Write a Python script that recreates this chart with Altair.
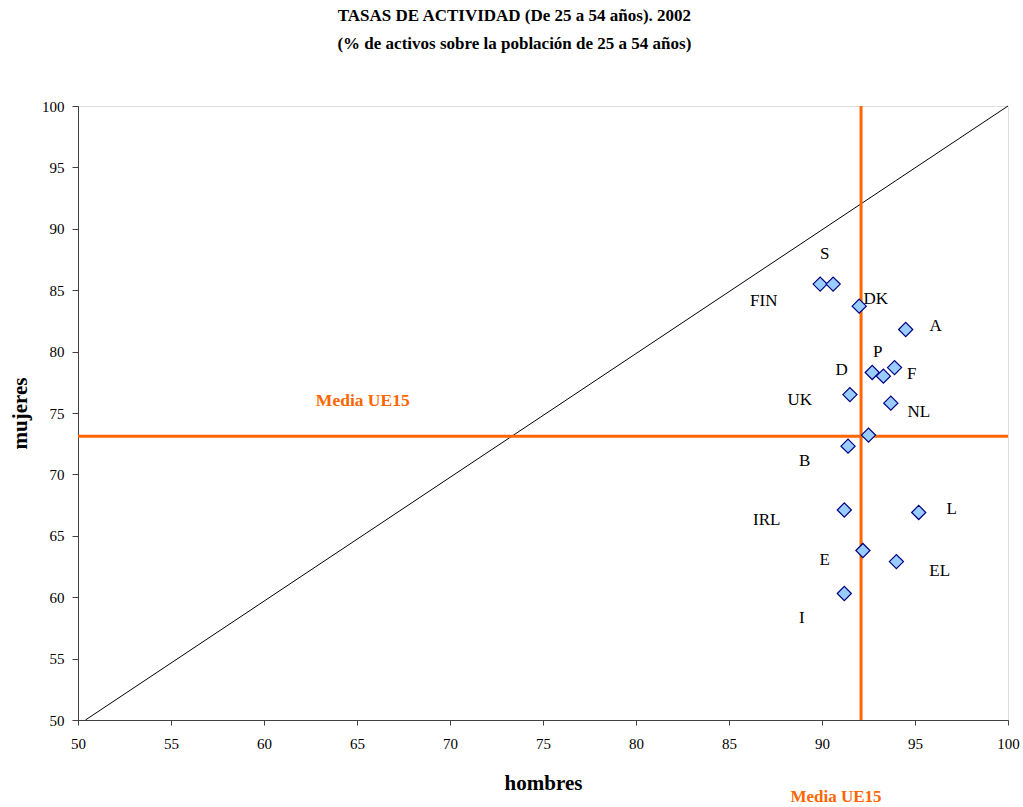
import altair as alt
import pandas as pd

# --- data ---
paises = ["S", "FIN", "DK", "A", "D", "P", "F", "UK", "NL", "", "B", "IRL", "L", "E", "EL", "I"]
hombres = [89.9, 90.6, 92.0, 94.5, 92.7, 93.3, 93.9, 91.5, 93.7, 92.5, 91.4, 91.2, 95.2, 92.2, 94.0, 91.2]
mujeres = [85.5, 85.5, 83.7, 81.8, 78.3, 78.0, 78.7, 76.5, 75.8, 73.2, 72.3, 67.1, 66.9, 63.8, 62.9, 60.3]

# label anchor positions (in data units)
etiqueta_x = [90.15, 86.87, 92.89, 96.11, 91.06, 92.99, 94.82, 88.80, 95.20, 92.5, 89.07, 87.03, 96.97, 90.15, 96.33, 88.91]
etiqueta_y = [87.93, 84.10, 84.27, 82.07, 78.49, 79.95, 78.16, 76.05, 75.07, 73.2, 71.08, 66.28, 67.17, 63.02, 62.13, 58.30]

media_hombres = 92.1
media_mujeres = 73.1

diag_x = [50.4, 100.0]
diag_y = [50.0, 100.0]

x_ticks = [50, 55, 60, 65, 70, 75, 80, 85, 90, 95, 100]
y_ticks = [50, 55, 60, 65, 70, 75, 80, 85, 90, 95, 100]

FONT = "Liberation Serif"
ORANGE = "#FF6600"

df = pd.DataFrame({"pais": paises, "hombres": hombres, "mujeres": mujeres})
df_lab = pd.DataFrame({"pais": paises, "lx": etiqueta_x, "ly": etiqueta_y})
df_diag = pd.DataFrame({"hombres": diag_x, "mujeres": diag_y})

xs = alt.Scale(domain=[50, 100], nice=False, zero=False)
ys = alt.Scale(domain=[50, 100], nice=False, zero=False)

x_axis = alt.Axis(values=x_ticks, grid=False, tickSize=5, labelPadding=11,
                  labelFlush=False, labelOverlap=False,
                  labelFont=FONT, labelFontSize=15, labelColor="black",
                  domainColor="#404040", tickColor="#404040",
                  title="hombres", titleFont=FONT, titleFontSize=21,
                  titleFontWeight="bold", titleColor="black", titlePadding=21)
y_axis = alt.Axis(values=y_ticks, grid=False, tickSize=6, labelPadding=8,
                  labelFlush=False, labelOverlap=False,
                  labelFont=FONT, labelFontSize=15, labelColor="black",
                  domainColor="#404040", tickColor="#404040",
                  title="mujeres", titleFont=FONT, titleFontSize=21,
                  titleFontWeight="bold", titleColor="black", titlePadding=11)

diag = alt.Chart(df_diag).mark_line(color="black", strokeWidth=1).encode(
    x=alt.X("hombres:Q", scale=xs, axis=x_axis),
    y=alt.Y("mujeres:Q", scale=ys, axis=y_axis),
)

vline = alt.Chart(pd.DataFrame({"v": [media_hombres]})).mark_rule(
    color=ORANGE, strokeWidth=3).encode(x=alt.X("v:Q", scale=xs))
hline = alt.Chart(pd.DataFrame({"v": [media_mujeres]})).mark_rule(
    color=ORANGE, strokeWidth=3).encode(y=alt.Y("v:Q", scale=ys))

points = alt.Chart(df).mark_point(
    shape="diamond", filled=True, fill="#99CCFF", stroke="#000080",
    strokeWidth=1.2, opacity=1, size=200).encode(
    x=alt.X("hombres:Q", scale=xs),
    y=alt.Y("mujeres:Q", scale=ys),
)

labels = alt.Chart(df_lab).mark_text(
    font=FONT, fontSize=17, color="black", align="center", baseline="middle").encode(
    x=alt.X("lx:Q", scale=xs),
    y=alt.Y("ly:Q", scale=ys),
    text="pais:N",
)

media_h_lab = alt.Chart(pd.DataFrame({"x": [65.31], "y": [75.96], "t": ["Media UE15"]})).mark_text(
    font=FONT, fontSize=17.5, fontWeight="bold", color=ORANGE, align="center", baseline="middle").encode(
    x=alt.X("x:Q", scale=xs), y=alt.Y("y:Q", scale=ys), text="t:N")

media_v_lab = alt.Chart(pd.DataFrame({"x": [90.75], "t": ["Media UE15"]})).mark_text(
    font=FONT, fontSize=17, fontWeight="bold", color=ORANGE, align="center", baseline="middle").encode(
    x=alt.X("x:Q", scale=xs), y=alt.value(691), text="t:N")

chart = alt.layer(diag, hline, vline, points, labels, media_h_lab, media_v_lab).properties(
    width=930, height=614,
    title=alt.TitleParams(
        text=["TASAS DE ACTIVIDAD (De 25 a 54 años). 2002",
              "(% de activos sobre la población de 25 a 54 años)"],
        font=FONT, fontSize=17, fontWeight="bold", color="black",
        anchor="middle", frame="bounds", lineHeight=28, offset=46),
    autosize=alt.AutoSizeParams(type="none"),
    padding={"left": 78, "top": 106, "right": 15, "bottom": 87},
).configure_view(stroke="#A0A0A0", strokeWidth=1).configure(background="white")

chart.save("out.html", embed_options={"renderer": "svg", "actions": False})
